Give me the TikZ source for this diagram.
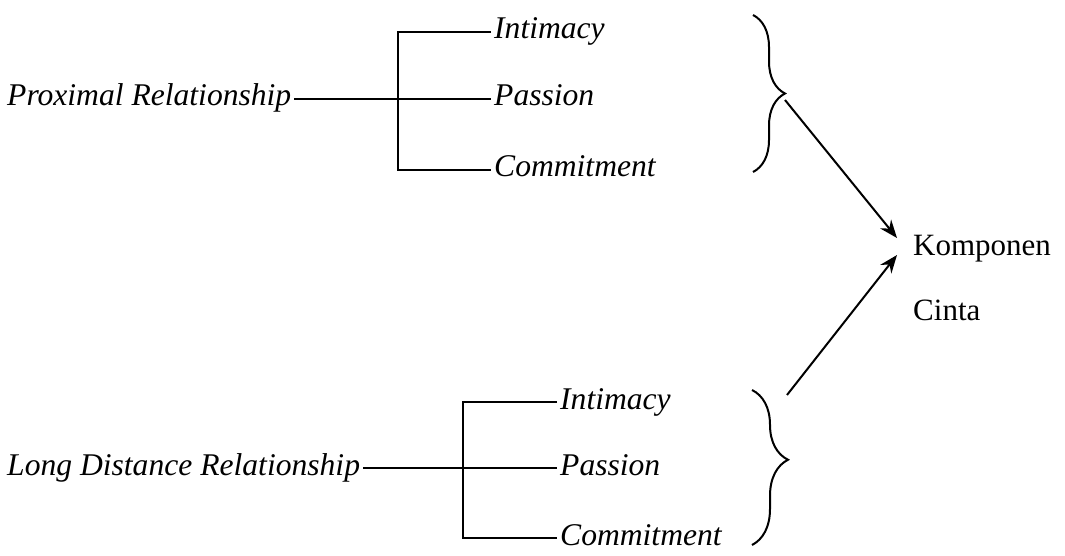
\documentclass[tikz,border=0pt]{standalone}
\usepackage{fontspec}
\setmainfont{Liberation Serif}
\usetikzlibrary{arrows.meta,decorations.pathreplacing}
\tikzset{
  teks/.style={inner sep=0pt, font=\fontsize{31}{36}\selectfont},
  miring/.style={inner ysep=0pt, inner xsep=3pt, text height=14pt, text depth=0pt,
    font=\fontsize{31.6}{36}\selectfont\itshape},
  garis/.style={line width=2pt},
  kurawal/.style={line width=2pt, decorate, decoration={brace, amplitude=#1}},
  panah/.style={line width=2pt, -{Stealth[length=18pt,width=14pt]}}
}
\begin{document}
\begin{tikzpicture}[x=1pt,y=-1pt]
    \useasboundingbox (0,0) rectangle (1065,556);

    % Proximal Relationship
    \node[miring, anchor=west] (prox) at (4,99) {Proximal Relationship};
    \node[miring, anchor=west] (pint) at (491,32) {Intimacy};
    \node[miring, anchor=west] (ppas) at (491,99) {Passion};
    \node[miring, anchor=west] (pcom) at (491,170) {Commitment};
    \coordinate (pv) at (398,0);
    \draw[garis] (prox.east) -- (ppas.west);
    \draw[garis] (pint.west) -- (pint.west -| pv) -- (pcom.west -| pv) -- (pcom.west);

    % Long Distance Relationship
    \node[miring, anchor=west] (ldr) at (4,468) {Long Distance Relationship};
    \node[miring, anchor=west] (lint) at (557,402) {Intimacy};
    \node[miring, anchor=west] (lpas) at (557,468) {Passion};
    \node[miring, anchor=west] (lcom) at (557,538) {Commitment};
    \coordinate (lv) at (463,0);
    \draw[garis] (ldr.east) -- (lpas.west);
    \draw[garis] (lint.west) -- (lint.west -| lv) -- (lcom.west -| lv) -- (lcom.west);

    % Kurung kurawal
    \draw[kurawal=32pt, decoration={aspect=0.5}] (753,15) -- (753,172);
    \draw[kurawal=36pt, decoration={aspect=0.45}] (752,390) -- (752,545);

    % Komponen Cinta
    \node[teks, anchor=base west] (komp) at (913,255) {Komponen};
    \node[teks, anchor=base west] (cinta) at (913,320) {Cinta};

    % Panah
    \coordinate (ka) at (785,100);
    \coordinate (kb) at (787,395);
    \coordinate (ta) at (897,238);
    \coordinate (tb) at (897,255);
    \draw[panah] (ka) -- (ta);
    \draw[panah] (kb) -- (tb);
\end{tikzpicture}
\end{document}
